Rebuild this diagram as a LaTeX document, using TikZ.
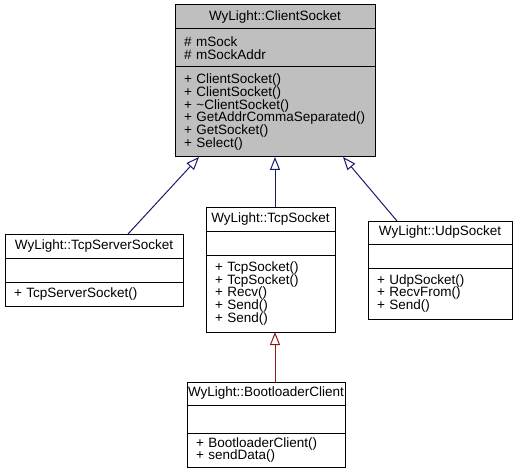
\documentclass[tikz,border=0pt]{standalone}
\usepackage{fontspec}
\setmainfont{Liberation Sans}
\usetikzlibrary{arrows.meta,positioning}
\definecolor{hdgray}{RGB}{191,191,191}
\definecolor{inhblue}{RGB}{25,25,112}
\definecolor{inhred}{RGB}{139,26,26}
\newcommand\umlfont{\fontsize{13.5}{12.8}\selectfont\lineskiplimit=-5pt\hyphenpenalty=10000}
\tikzset{
  % class boxes
  ctitle/.style={draw,fill=white,line width=1pt,minimum width=#1,minimum height=24pt,
    inner sep=0pt,outer sep=0pt,anchor=north,font=\umlfont},
  cpart/.style={draw,fill=white,line width=1pt,text width=#1,inner xsep=9pt,inner ysep=0pt,
    outer sep=0pt,align=left,anchor=north,font=\umlfont},
  % inheritance arrows
  inh/.style={-{Triangle[open,length=13pt,width=10pt]},line width=1pt,draw=#1},
  inh/.default=inhblue,
}
\begin{document}
\begin{tikzpicture}[x=1pt,y=-1pt]
  \useasboundingbox (0,0) rectangle (516,473);

  % base class
  \node[ctitle=200pt,fill=hdgray] (csT) at (275,5) {WyLight::ClientSocket};
  \node[cpart=182pt,fill=hdgray,minimum height=38pt,below=0pt of csT] (csA) {\# mSock\\\# mSockAddr};
  \node[cpart=182pt,fill=hdgray,minimum height=90pt,below=0pt of csA] (csM) {+ ClientSocket()\\+ ClientSocket()\\+ \textasciitilde ClientSocket()\\+ GetAddrCommaSeparated()\\+ GetSocket()\\+ Select()};

  % derived classes
  \node[ctitle=178pt] (tssT) at (94,234) {WyLight::TcpServerSocket};
  \node[cpart=160pt,minimum height=24pt,below=0pt of tssT] (tssA) {};
  \node[cpart=160pt,minimum height=24pt,below=0pt of tssA] (tssM) {+ TcpServerSocket()};

  \node[ctitle=129pt] (tcpT) at (270.5,207) {WyLight::TcpSocket};
  \node[cpart=111pt,minimum height=24pt,below=0pt of tcpT] (tcpA) {};
  \node[cpart=111pt,minimum height=77pt,below=0pt of tcpA] (tcpM) {+ TcpSocket()\\+ TcpSocket()\\+ Recv()\\+ Send()\\+ Send()};

  \node[ctitle=144pt,minimum height=23pt] (udpT) at (440,221) {WyLight::UdpSocket};
  \node[cpart=126pt,minimum height=24pt,below=0pt of udpT] (udpA) {};
  \node[cpart=126pt,minimum height=51pt,below=0pt of udpA] (udpM) {+ UdpSocket()\\+ RecvFrom()\\+ Send()};

  \node[ctitle=158pt,minimum height=23pt] (blcT) at (266,382) {WyLight::BootloaderClient};
  \node[cpart=140pt,minimum height=28pt,below=0pt of blcT] (blcA) {};
  \node[cpart=140pt,minimum height=34pt,below=0pt of blcA] (blcM) {+ BootloaderClient()\\+ sendData()};

  % generalisation
  \draw[inh] ([xshift=123pt]tssT.north west) -- ([xshift=24pt]csM.south west);
  \draw[inh] (tcpT.north -| csM.south) -- (csM.south);
  \draw[inh] ([xshift=29pt]udpT.north west) -- ([xshift=-32pt]csM.south east);
  \draw[inh=inhred] (blcT.north -| csM.south) -- (tcpM.south -| csM.south);
\end{tikzpicture}
\end{document}
